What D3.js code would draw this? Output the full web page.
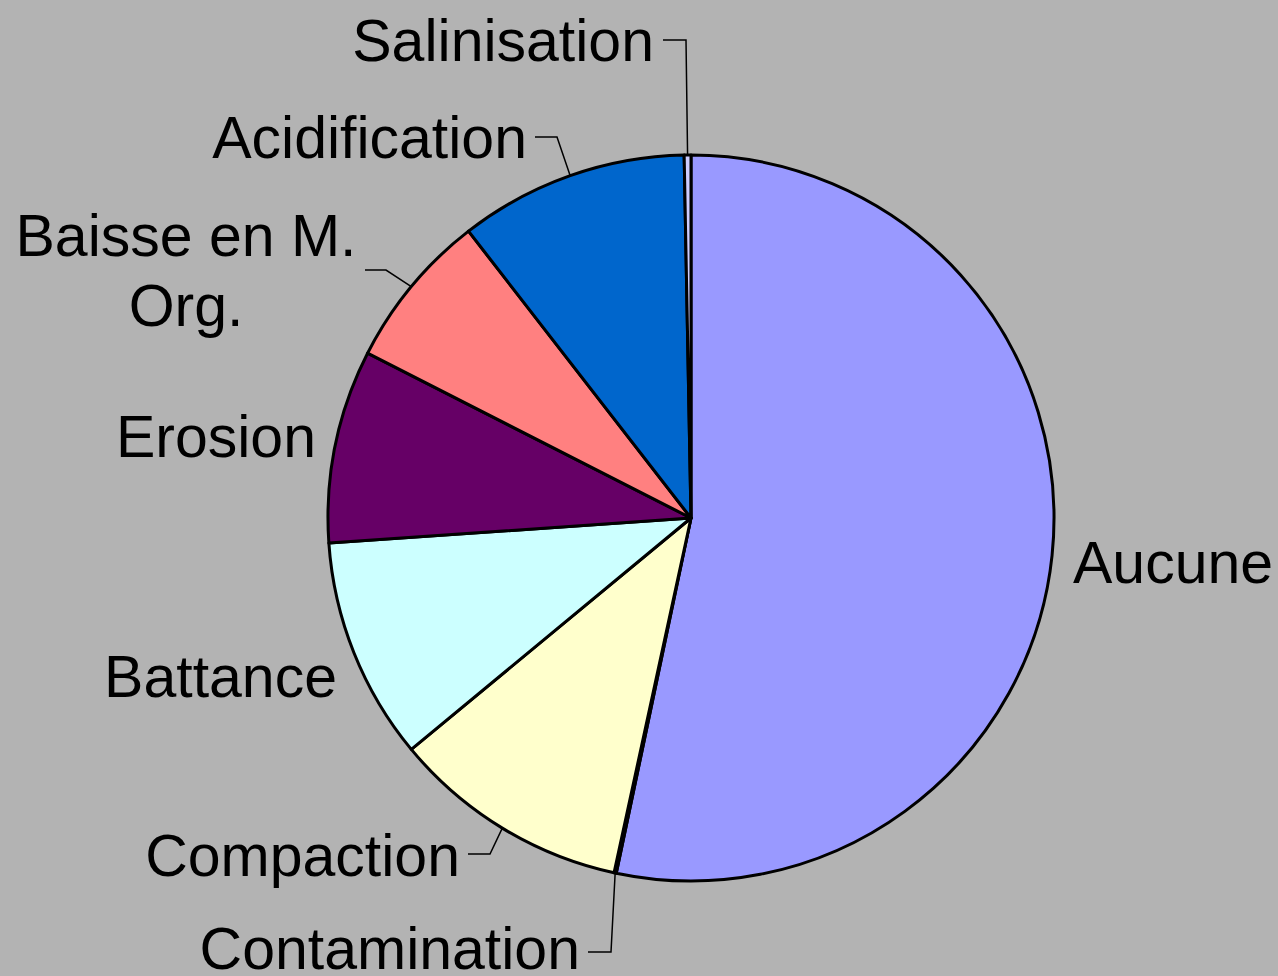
<!DOCTYPE html>
<html>
<head>
<meta charset="utf-8">
<script src="https://cdn.jsdelivr.net/npm/d3@7"></script>
<style>
  html, body { margin: 0; padding: 0; background: #b3b3b3; overflow: hidden; }
  svg { display: block; }
  text { font-family: "Liberation Sans", Arial, sans-serif; font-size: 59px; fill: #000; }
</style>
</head>
<body>
<svg id="chart" width="1278" height="976"></svg>
<script>
// Soil degradation categories and their shares (%)
const categories = ["Aucune", "Contamination", "Compaction", "Battance", "Erosion", "Baisse en M. Org.", "Acidification", "Salinisation"];
const values = [53.3, 0.1, 10.6, 9.9, 8.6, 7.0, 10.2, 0.3];
const colors = ["#9999FF", "#993366", "#FFFFCC", "#CCFFFF", "#660066", "#FF8080", "#0066CC", "#CCCCFF"];
const labelLines = [["Aucune"], ["Contamination"], ["Compaction"], ["Battance"], ["Erosion"], ["Baisse en M.", "Org."], ["Acidification"], ["Salinisation"]];

// Label placement: text anchor and optional leader (elbow point, then end point near the text)
const labelLayout = {
  "Aucune":            { anchor: "start",  x: 1073, y: 583 },
  "Contamination":     { anchor: "end",    x: 580,  y: 969, elbow: [611, 952], end: [588, 952] },
  "Compaction":        { anchor: "end",    x: 460,  y: 876, elbow: [490, 854], end: [468, 854] },
  "Battance":          { anchor: "end",    x: 337,  y: 697 },
  "Erosion":           { anchor: "end",    x: 316,  y: 457 },
  "Baisse en M. Org.": { anchor: "middle", x: 186,  y: 256, lineGap: 70, elbow: [386, 270], end: [365, 270] },
  "Acidification":     { anchor: "end",    x: 527,  y: 158, elbow: [557, 137], end: [535, 137] },
  "Salinisation":      { anchor: "end",    x: 654,  y: 61,  elbow: [686, 40],  end: [663, 40] }
};

const cx = 691, cy = 518, radius = 363;

const data = categories.map((c, i) => ({ name: c, value: values[i], color: colors[i], lines: labelLines[i] }));

const pie = d3.pie().sort(null).value(d => d.value);
const arcs = pie(data);
const arc = d3.arc().innerRadius(0).outerRadius(radius);

const svg = d3.select("#chart");
const g = svg.append("g").attr("transform", `translate(${cx},${cy})`);

g.selectAll("path.slice")
  .data(arcs)
  .join("path")
  .attr("class", "slice")
  .attr("d", arc)
  .attr("fill", d => d.data.color)
  .attr("stroke", "#000")
  .attr("stroke-width", 3)
  .attr("stroke-linejoin", "round");

// Leader lines from slice edge (mid-angle) to label
const edgePoint = d => {
  const a = (d.startAngle + d.endAngle) / 2;
  return [cx + radius * Math.sin(a), cy - radius * Math.cos(a)];
};

arcs.forEach(d => {
  const L = labelLayout[d.data.name];
  if (!L.elbow) return;
  const p = edgePoint(d);
  svg.append("polyline")
    .attr("points", [p, L.elbow, L.end].map(q => q.join(",")).join(" "))
    .attr("fill", "none")
    .attr("stroke", "#000")
    .attr("stroke-width", 1.5);
});

// Labels
arcs.forEach(d => {
  const L = labelLayout[d.data.name];
  const t = svg.append("text")
    .attr("text-anchor", L.anchor)
    .attr("x", L.x)
    .attr("y", L.y);
  d.data.lines.forEach((line, i) => {
    t.append("tspan")
      .attr("x", L.x)
      .attr("y", L.y + i * (L.lineGap || 0))
      .text(line);
  });
});
</script>
</body>
</html>
